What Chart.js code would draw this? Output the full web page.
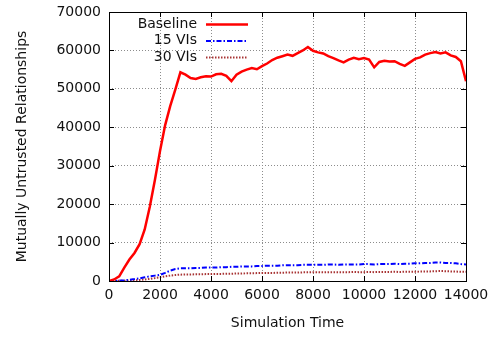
<!DOCTYPE html>
<html>
<head>
<meta charset="utf-8">
<script src="https://cdn.jsdelivr.net/npm/chart.js@4.4.1/dist/chart.umd.min.js"></script>
<style>
  html, body { margin: 0; padding: 0; background: #fff; }
  #wrap { width: 500px; height: 337px; }
</style>
</head>
<body>
<div id="wrap"><canvas id="c" width="500" height="337"></canvas></div>
<script>
// --- Data ---
const times = [
  0, 200, 400, 600, 800, 1000, 1200, 1400, 1600, 1800,
  2000, 2200, 2400, 2600, 2800, 3000, 3200, 3400, 3600, 3800,
  4000, 4200, 4400, 4600, 4800, 5000, 5200, 5400, 5600, 5800,
  6000, 6200, 6400, 6600, 6800, 7000, 7200, 7400, 7600, 7800,
  8000, 8200, 8400, 8600, 8800, 9000, 9200, 9400, 9600, 9800,
  10000, 10200, 10400, 10600, 10800, 11000, 11200, 11400, 11600, 11800,
  12000, 12200, 12400, 12600, 12800, 13000, 13200, 13400, 13600, 13800,
  14000
];
const baseline = [
  0, 400, 1200, 3500, 5600, 7300, 9600, 13400, 19300, 26300,
  33800, 40500, 45500, 49800, 54300, 53700, 52800, 52600, 53000, 53300,
  53200, 53800, 53900, 53400, 52000, 53700, 54500, 55000, 55400, 55100,
  55900, 56600, 57500, 58100, 58500, 58900, 58600, 59300, 60000, 60900,
  59900, 59500, 59200, 58500, 58000, 57400, 56900, 57600, 58100, 57700,
  58000, 57600, 55600, 57000, 57300, 57100, 57200, 56500, 56000, 56900,
  57800, 58200, 58900, 59300, 59600, 59200, 59500, 58700, 58300, 57200,
  52000
];
const vis15 = [
  0, 30, 100, 200, 330, 500, 700, 950, 1200, 1400,
  1600, 2100, 2700, 3100, 3300, 3300, 3300, 3400, 3400, 3500,
  3500, 3500, 3600, 3600, 3700, 3700, 3800, 3800, 3800, 3900,
  3900, 4000, 4000, 4000, 4100, 4100, 4100, 4100, 4200, 4200,
  4200, 4200, 4200, 4300, 4300, 4200, 4300, 4300, 4300, 4300,
  4400, 4400, 4300, 4400, 4400, 4400, 4500, 4400, 4500, 4500,
  4600, 4600, 4700, 4700, 4800, 4800, 4700, 4700, 4600, 4400,
  4300
];
const vis30 = [
  0, 10, 40, 80, 120, 180, 280, 400, 550, 750,
  950, 1200, 1400, 1550, 1650, 1700, 1700, 1750, 1750, 1800,
  1800, 1850, 1850, 1900, 1900, 1950, 1950, 2000, 2000, 2050,
  2100, 2100, 2100, 2150, 2150, 2200, 2200, 2200, 2250, 2250,
  2300, 2300, 2250, 2300, 2300, 2300, 2300, 2300, 2350, 2300,
  2300, 2350, 2300, 2350, 2350, 2350, 2400, 2350, 2400, 2400,
  2400, 2450, 2450, 2500, 2550, 2600, 2550, 2500, 2450, 2400,
  2400
];
const seriesNames = ['Baseline', '15 VIs', '30 VIs'];
const xTicks = [0, 2000, 4000, 6000, 8000, 10000, 12000, 14000];
const yTicks = [0, 10000, 20000, 30000, 40000, 50000, 60000, 70000];

const FONT = 'DejaVu Sans';
const pts = arr => times.map((t, i) => ({ x: t, y: arr[i] }));

// --- Frame, inward ticks and legend, gnuplot style ---
const gnuFrame = {
  id: 'gnuFrame',
  afterDraw(chart) {
    const { ctx, chartArea: a, scales: { x, y } } = chart;
    ctx.save();
    ctx.strokeStyle = '#000';
    ctx.lineWidth = 1;
    ctx.setLineDash([]);
    ctx.beginPath();
    xTicks.forEach(v => {
      const px = Math.round(x.getPixelForValue(v)) + 0.5;
      ctx.moveTo(px, a.bottom); ctx.lineTo(px, a.bottom - 5);
      ctx.moveTo(px, a.top); ctx.lineTo(px, a.top + 5);
    });
    yTicks.forEach(v => {
      const py = Math.round(y.getPixelForValue(v)) + 0.5;
      ctx.moveTo(a.left, py); ctx.lineTo(a.left + 5, py);
      ctx.moveTo(a.right, py); ctx.lineTo(a.right - 5, py);
    });
    ctx.stroke();
    ctx.strokeRect(Math.round(a.left) + 0.5, Math.round(a.top) + 0.5,
                   Math.round(a.right - a.left), Math.round(a.bottom - a.top));

    // legend: right-aligned text, sample line on the right
    ctx.font = '14px "' + FONT + '"';
    ctx.textAlign = 'right';
    ctx.textBaseline = 'middle';
    chart.data.datasets.forEach((ds, i) => {
      const ly = 24 + i * 16.5;
      ctx.fillStyle = '#111';
      ctx.fillText(ds.label, 197, ly);
      ctx.strokeStyle = ds.borderColor;
      ctx.lineWidth = ds.borderWidth;
      ctx.setLineDash(ds.borderDash || []);
      ctx.beginPath();
      ctx.moveTo(206, ly + 0.5); ctx.lineTo(248, ly + 0.5);
      ctx.stroke();
    });
    ctx.restore();
  }
};

const plain = v => String(v);

new Chart(document.getElementById('c'), {
  type: 'line',
  data: {
    datasets: [
      { label: seriesNames[0], data: pts(baseline), borderColor: '#ff0000', borderWidth: 2.5, borderDash: [], pointRadius: 0, tension: 0 },
      { label: seriesNames[1], data: pts(vis15), borderColor: '#0000ff', borderWidth: 2, borderDash: [5, 2, 1.5, 2], pointRadius: 0, tension: 0 },
      { label: seriesNames[2], data: pts(vis30), borderColor: '#a83434', borderWidth: 2, borderDash: [1.5, 1.5], pointRadius: 0, tension: 0 }
    ]
  },
  options: {
    responsive: false,
    animation: false,
    layout: { padding: { left: 0, right: 34, top: 12, bottom: 0 } },
    plugins: { legend: { display: false }, tooltip: { enabled: false } },
    scales: {
      x: {
        type: 'linear', min: 0, max: 14000,
        afterFit: s => { s.height = 56; s.paddingLeft = 0; s.paddingRight = 0; },
        afterBuildTicks: s => { s.ticks = xTicks.map(v => ({ value: v })); },
        grid: { color: '#8c8c8c', lineWidth: 1, drawTicks: false },
        border: { display: false, dash: [1, 2] },
        ticks: { color: '#111', font: { family: FONT, size: 14 }, padding: 6, maxRotation: 0, autoSkip: false, callback: plain },
        title: { display: true, text: 'Simulation Time', color: '#111', font: { family: FONT, size: 14 }, padding: { top: 0, bottom: 5 } }
      },
      y: {
        type: 'linear', min: 0, max: 70000,
        afterFit: s => { s.width = 109; s.paddingTop = 0; s.paddingBottom = 0; },
        afterBuildTicks: s => { s.ticks = yTicks.map(v => ({ value: v })); },
        grid: { color: '#8c8c8c', lineWidth: 1, drawTicks: false },
        border: { display: false, dash: [1, 2] },
        ticks: { color: '#111', font: { family: FONT, size: 14 }, padding: 8, autoSkip: false, callback: plain },
        title: { display: true, text: 'Mutually Untrusted Relationships', color: '#111', font: { family: FONT, size: 14 }, padding: { top: 14, bottom: 0 } }
      }
    }
  },
  plugins: [gnuFrame]
});
</script>
</body>
</html>
